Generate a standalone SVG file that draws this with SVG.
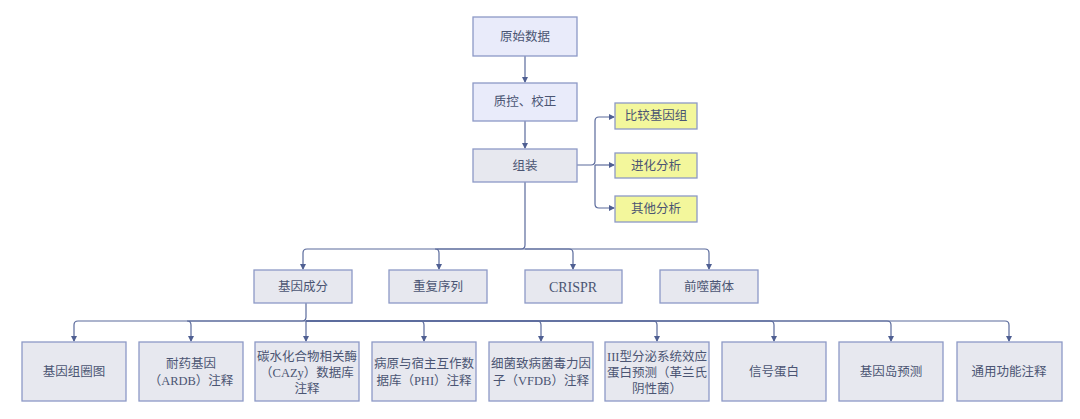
<svg xmlns="http://www.w3.org/2000/svg" width="1080" height="419" viewBox="0 0 1080 419">
<defs>
<marker id="ah" markerWidth="6" markerHeight="6" refX="5" refY="3" orient="auto" markerUnits="userSpaceOnUse">
<path d="M0,0 L6,3 L0,6 z" fill="#4f5f92"/>
</marker>
<style>
.b{stroke:#8d99c6;stroke-width:1.3}
.top{fill:#e9ebfa}
.g{fill:#e7e8ef}
.y{fill:#f3f79c}
.t{font-family:"Liberation Serif","Noto Sans CJK SC",serif;font-size:12.5px;fill:#4b5573;text-anchor:middle;dominant-baseline:central}
.c{fill:none;stroke:#5a6a9c;stroke-width:1.2;marker-end:url(#ah)}
</style>
</defs>
<rect width="1080" height="419" fill="#ffffff"/>
<g id="connectors">
<path class="c" d="M525,56 V82"/>
<path class="c" d="M525,121 V148"/>
<path class="c" d="M577,165 H591 Q595,165 595,161 V121 Q595,117 599,117 H614"/>
<path class="c" d="M595,165 H614"/>
<path class="c" d="M595,165 V204 Q595,208 599,208 H614"/>
<path class="c" d="M525,182 V245 Q525,249 521,249 H307 Q303,249 303,253 V269"/>
<path class="c" d="M525,249 H435 Q439,249 439,253 V269"/>
<path class="c" d="M525,249 H569 Q573,249 573,253 V269"/>
<path class="c" d="M525,249 H705 Q709,249 709,253 V269"/>
<path class="c" d="M306,303 V317 Q306,321 302,321 H78 Q74,321 74,325 V341"/>
<path class="c" d="M306,321 H187 Q191,321 191,325 V341"/>
<path class="c" d="M306,321 V341"/>
<path class="c" d="M306,321 H420 Q424,321 424,325 V341"/>
<path class="c" d="M306,321 H537 Q541,321 541,325 V341"/>
<path class="c" d="M306,321 H653 Q657,321 657,325 V341"/>
<path class="c" d="M306,321 H770 Q774,321 774,325 V341"/>
<path class="c" d="M306,321 H887 Q891,321 891,325 V341"/>
<path class="c" d="M306,321 H1005 Q1009,321 1009,325 V341"/>
</g>
<g id="n1"><rect class="b top" x="473" y="17" width="104" height="39"/><text class="t" x="525" y="37">原始数据</text></g>
<g id="n2"><rect class="b top" x="473" y="83" width="104" height="38"/><text class="t" x="525" y="102">质控、校正</text></g>
<g id="n3"><rect class="b g" x="473" y="149" width="104" height="33"/><text class="t" x="525" y="166">组装</text></g>
<g id="n4"><rect class="b y" x="615" y="103" width="82" height="26"/><text class="t" x="656" y="116">比较基因组</text></g>
<g id="n5"><rect class="b y" x="615" y="153" width="82" height="25"/><text class="t" x="656" y="166">进化分析</text></g>
<g id="n6"><rect class="b y" x="615" y="196" width="82" height="26"/><text class="t" x="656" y="209">其他分析</text></g>
<g id="n7"><rect class="b g" x="254" y="270" width="98" height="33"/><text class="t" x="303" y="287">基因成分</text></g>
<g id="n8"><rect class="b g" x="389" y="270" width="98" height="33"/><text class="t" x="438" y="287">重复序列</text></g>
<g id="n9"><rect class="b g" x="525" y="270" width="97" height="33"/><text class="t" x="573" y="287" style="font-size:14px">CRISPR</text></g>
<g id="n10"><rect class="b g" x="660" y="270" width="98" height="33"/><text class="t" x="709" y="287">前噬菌体</text></g>
<g id="n11"><rect class="b g" x="22" y="342" width="104" height="59"/><text class="t" x="74" y="372">基因组圈图</text></g>
<g id="n12"><rect class="b g" x="139" y="342" width="104" height="59"/><text class="t" x="191" y="364">耐药基因</text><text class="t" x="191" y="381">（ARDB）注释</text></g>
<g id="n13"><rect class="b g" x="255" y="342" width="104" height="59"/><text class="t" x="307" y="357">碳水化合物相关酶</text><text class="t" x="307" y="373">（CAZy）数据库</text><text class="t" x="307" y="389">注释</text></g>
<g id="n14"><rect class="b g" x="372" y="342" width="104" height="59"/><text class="t" x="424" y="364">病原与宿主互作数</text><text class="t" x="424" y="381">据库（PHI）注释</text></g>
<g id="n15"><rect class="b g" x="489" y="342" width="104" height="59"/><text class="t" x="541" y="364">细菌致病菌毒力因</text><text class="t" x="541" y="381">子（VFDB）注释</text></g>
<g id="n16"><rect class="b g" x="605" y="342" width="104" height="59"/><text class="t" x="657" y="357">III型分泌系统效应</text><text class="t" x="657" y="373">蛋白预测（革兰氏</text><text class="t" x="657" y="389">阴性菌）</text></g>
<g id="n17"><rect class="b g" x="722" y="342" width="104" height="59"/><text class="t" x="774" y="372">信号蛋白</text></g>
<g id="n18"><rect class="b g" x="839" y="342" width="104" height="59"/><text class="t" x="891" y="372">基因岛预测</text></g>
<g id="n19"><rect class="b g" x="957" y="342" width="105" height="59"/><text class="t" x="1009" y="372">通用功能注释</text></g>
</svg>
